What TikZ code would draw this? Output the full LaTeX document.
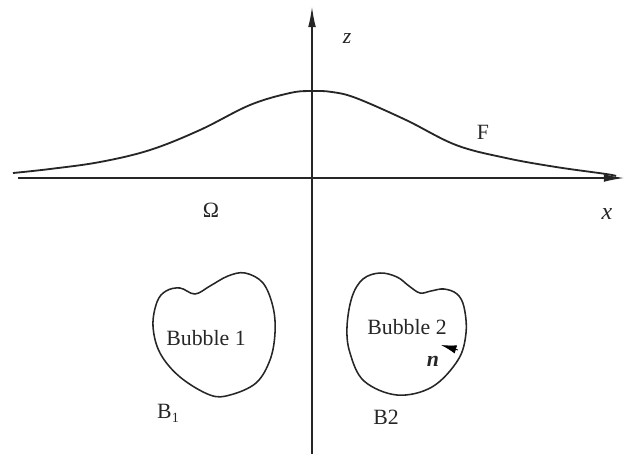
\documentclass[tikz,border=0pt]{standalone}
\usepackage{fontspec}
\setmainfont{Liberation Serif}
\usetikzlibrary{arrows.meta}
\tikzset{
  axis/.style={line width=1.3pt, draw=black!85, -{Latex[length=15pt,width=5.5pt]}},
  curve/.style={line width=1.3pt, draw=black!85},
  bubble/.style={line width=1.1pt, draw=black!85},
  lbl/.style={inner sep=0pt, font=\fontsize{15.5}{18}\selectfont, text=black!85},
}
\begin{document}
\begin{tikzpicture}[x=0.025cm,y=-0.025cm]
\useasboundingbox (0,0) rectangle (626,454);
% axes
\coordinate (xs) at (18,178);
\coordinate (xe) at (625,178);
\coordinate (zs) at (312,454);
\coordinate (ze) at (312,6);
\draw[axis] (xs) -- (xe);
\draw[axis] (zs) -- (ze);
% curve F
\draw[curve] plot[smooth, tension=0.6] coordinates {(13,173) (50,169) (100,162) (150,150) (200,130) (250,105) (290,93) (312,91) (332,92) (356,98) (406,120) (456,145) (506,158) (556,167) (606,174) (616,176)};
% bubble 1
\draw[bubble] plot[smooth cycle, tension=0.6] coordinates {(153,326) (157,302) (166,291) (180,288) (195,294) (210,286) (228,276) (245,273) (263,283) (273,307) (275,333) (270,360) (256,383) (230,395) (210,395) (180,377) (160,353)};
% bubble 2
\draw[bubble] plot[smooth cycle, tension=0.6] coordinates {(347,327) (352,297) (363,279) (380,273) (397,277) (409,286) (420,293) (431,291) (444,289) (457,294) (464,307) (466,333) (458,360) (432,387) (397,395) (364,381) (350,353)};
% normal arrow
\coordinate (nb) at (458,350);
\coordinate (nt) at (441,345);
\draw[line width=0.6pt, -{Latex[length=11pt,width=6pt]}] (nb) -- (nt);
% labels
\node[lbl] (lz) at (347,38) {\itshape z};
\node[lbl] (lF) at (483,132) {F};
\node[lbl] (lO) at (211,210) {Ω};
\node[lbl, font=\fontsize{17}{20}\selectfont] (lx) at (607,214) {\itshape x};
\node[lbl] (b1) at (206,338) {Bubble 1};
\node[lbl] (b2) at (407,327) {Bubble 2};
\node[lbl] (ln) at (433,361) {\bfseries\itshape n};
\node[lbl] (lB1) at (168,413) {B\raisebox{-3pt}{\fontsize{10}{12}\selectfont 1}};
\node[lbl] (lB2) at (386,417) {B2};
\end{tikzpicture}
\end{document}
